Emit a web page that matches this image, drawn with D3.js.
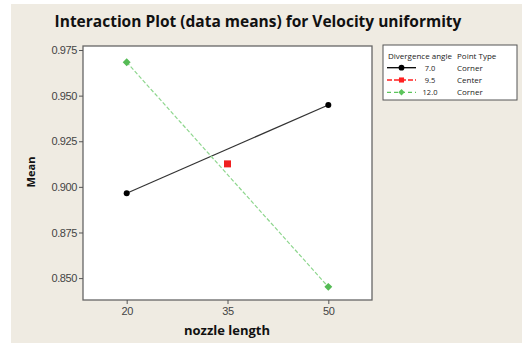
<!DOCTYPE html>
<html>
<head>
<meta charset="utf-8">
<script src="https://cdn.jsdelivr.net/npm/d3@7"></script>
<style>
  body { margin: 0; background: #fff; }
  svg { display: block; font-family: "Open Sans", "DejaVu Sans", sans-serif; }
</style>
</head>
<body>
<svg id="chart" width="522" height="343"></svg>
<script>
const nozzleLengths = [20, 35, 50];
const xTicks = [20, 35, 50];
const yTicks = [0.850, 0.875, 0.900, 0.925, 0.950, 0.975];
const angle7 = [[20, 0.8965], [50, 0.9449]];
const angle95 = [[35, 0.9126]];
const angle12 = [[20, 0.9683], [50, 0.8452]];
const legendRows = [
  { angle: "7.0", type: "Corner", color: "#000000", shape: "circle", dash: null },
  { angle: "9.5", type: "Center", color: "#ff2020", shape: "square", dash: "5,2" },
  { angle: "12.0", type: "Corner", color: "#5cc45c", shape: "diamond", dash: "4,3" }
];

const svg = d3.select("#chart");
const margin = { left: 83, top: 46, right: 372, bottom: 300 };

svg.append("rect").attr("x", 11).attr("y", 4).attr("width", 511).attr("height", 339).attr("fill", "#efebe2");

const x = d3.scaleLinear().domain([13.5, 56.5]).range([margin.left, margin.right]);
const y = d3.scaleLinear().domain([0.838, 0.9772]).range([margin.bottom, margin.top]);

svg.append("rect")
  .attr("x", margin.left).attr("y", margin.top)
  .attr("width", margin.right - margin.left).attr("height", margin.bottom - margin.top)
  .attr("fill", "#fff").attr("stroke", "#666").attr("stroke-width", 1.3);

// axes
const yAxis = svg.append("g")
  .attr("transform", "translate(" + margin.left + ",0)")
  .call(d3.axisLeft(y).tickValues(yTicks).tickFormat(d3.format(".3f")).tickSize(4).tickPadding(2));
const xAxis = svg.append("g")
  .attr("transform", "translate(0," + margin.bottom + ")")
  .call(d3.axisBottom(x).tickValues(xTicks).tickSize(4).tickPadding(3));
[xAxis, yAxis].forEach(a => {
  a.select(".domain").remove();
  a.selectAll("line").attr("stroke", "#555");
  a.selectAll("text").attr("fill", "#444").style("font-size", "11px").style("letter-spacing", "-0.4px");
});

// lines
const line = d3.line().x(d => x(d[0])).y(d => y(d[1]));
svg.append("path").datum(angle7).attr("d", line).attr("fill", "none").attr("stroke", "#333").attr("stroke-width", 1.2);
svg.append("path").datum(angle12).attr("d", line).attr("fill", "none").attr("stroke", "#8ed68e").attr("stroke-width", 1.2).attr("stroke-dasharray", "4,2");

svg.selectAll(".p7").data(angle7).enter().append("circle")
  .attr("cx", d => x(d[0])).attr("cy", d => y(d[1])).attr("r", 3).attr("fill", "#000");
svg.selectAll(".p95").data(angle95).enter().append("rect")
  .attr("x", d => x(d[0]) - 3.5).attr("y", d => y(d[1]) - 3.5).attr("width", 7).attr("height", 7).attr("fill", "#f02020");
svg.selectAll(".p12").data(angle12).enter().append("path")
  .attr("transform", d => "translate(" + x(d[0]) + "," + y(d[1]) + ")")
  .attr("d", d3.symbol(d3.symbolDiamond2, 40)).attr("fill", "#55bb55");

// titles
svg.append("text").attr("x", 258).attr("y", 27).attr("text-anchor", "middle")
  .style("font-size", "15.5px").style("font-weight", "bold").attr("fill", "#111")
  .text("Interaction Plot (data means) for Velocity uniformity");
svg.append("text").attr("x", 227).attr("y", 335).attr("text-anchor", "middle")
  .style("font-size", "13px").style("font-weight", "bold").attr("fill", "#111").text("nozzle length");
svg.append("text").attr("transform", "translate(35,172) rotate(-90)").attr("text-anchor", "middle")
  .style("font-size", "11px").style("font-weight", "bold").attr("fill", "#111").text("Mean");

// legend
const lg = svg.append("g").attr("transform", "translate(383,45)");
lg.append("rect").attr("width", 134).attr("height", 55).attr("fill", "#fff").attr("stroke", "#555").attr("stroke-width", 1);
lg.append("text").attr("x", 5).attr("y", 13.5).style("font-size", "8px").attr("fill", "#222").text("Divergence angle");
lg.append("text").attr("x", 74).attr("y", 13.5).style("font-size", "8px").attr("fill", "#222").text("Point Type");
legendRows.forEach((r, i) => {
  const ry = 22.7 + i * 12.3;
  lg.append("line").attr("x1", 4).attr("x2", 33).attr("y1", ry).attr("y2", ry)
    .attr("stroke", r.color).attr("stroke-width", 1.3).attr("stroke-dasharray", r.dash);
  const sym = r.shape === "circle" ? d3.symbolCircle : r.shape === "square" ? d3.symbolSquare : d3.symbolDiamond2;
  lg.append("path").attr("transform", "translate(18.5," + ry + ")").attr("d", d3.symbol(sym, 26)).attr("fill", r.color);
  lg.append("text").attr("x", 47).attr("y", ry + 3).attr("text-anchor", "middle").style("font-size", "7.5px").attr("fill", "#222").text(r.angle);
  lg.append("text").attr("x", 74).attr("y", ry + 3).style("font-size", "8px").attr("fill", "#222").text(r.type);
});
</script>
</body>
</html>
